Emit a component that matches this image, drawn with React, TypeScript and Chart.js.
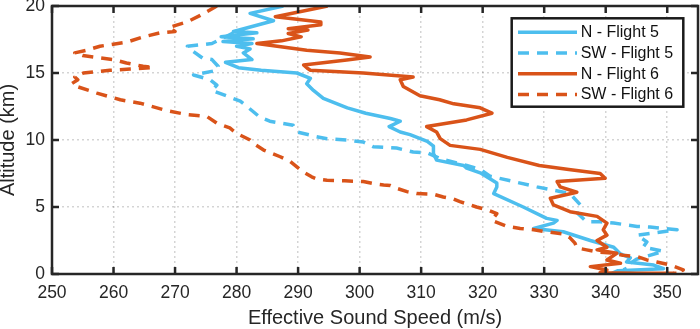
import React, { useEffect, useRef } from 'react';
import { Chart, registerables } from 'chart.js';

Chart.register(...registerables);

// ---- data (speed in m/s, altitude in km) ----
const n5Speed = [287.6, 282.2, 286.0, 279.5, 283.3, 277.5, 282.7, 277.8, 282.5, 280.0, 282.2, 281.1, 282.5, 278.2, 280.3, 284.0, 289.8, 292.0, 291.4, 292.5, 294.1, 298.0, 301.0, 305.0, 306.6, 304.8, 306.6, 308.2, 311.0, 312.0, 312.0, 312.5, 316.9, 317.4, 319.6, 322.3, 322.3, 321.8, 326.6, 330.4, 332.1, 331.5, 328.3, 333.1, 337.5, 341.3, 342.4, 344.0, 343.4, 347.8, 349.4, 342.0, 341.0];
const n5Alt = [20.0, 19.45, 18.9, 18.1, 18.0, 17.7, 17.55, 17.35, 17.2, 17.0, 16.8, 16.5, 16.0, 15.8, 15.4, 15.2, 15.0, 14.6, 14.2, 13.7, 13.1, 12.4, 12.0, 11.6, 11.4, 11.0, 10.6, 10.4, 9.9, 9.55, 9.0, 8.5, 8.1, 7.9, 7.55, 6.8, 6.5, 6.0, 5.0, 4.15, 4.0, 3.8, 3.4, 3.15, 2.5, 2.0, 1.5, 1.2, 0.9, 0.67, 0.4, 0.25, 0.05];

const sw5Speed = [279.5, 276.0, 272.0, 273.0, 274.5, 276.0, 277.0, 276.8, 273.0, 275.7, 276.8, 276.0, 280.6, 281.7, 283.8, 285.4, 289.2, 289.8, 293.0, 294.7, 297.9, 300.6, 302.2, 306.0, 308.7, 311.0, 313.1, 317.4, 319.6, 321.2, 325.0, 328.8, 331.0, 334.2, 335.9, 335.3, 336.9, 339.1, 341.3, 345.1, 347.2, 351.6, 345.1, 346.7, 346.1, 349.4, 345.0, 343.0, 343.5];
const sw5Alt = [18.0, 17.2, 17.0, 16.6, 16.1, 16.0, 15.5, 15.2, 14.85, 14.5, 14.1, 13.7, 12.9, 12.5, 11.7, 11.4, 11.1, 10.6, 10.25, 10.1, 10.0, 9.85, 9.5, 9.4, 9.1, 9.05, 8.6, 8.1, 7.8, 7.3, 6.9, 6.5, 6.3, 6.0, 5.15, 4.6, 3.9, 3.9, 3.8, 3.55, 3.5, 3.3, 2.9, 2.4, 2.0, 1.7, 1.1, 0.5, 0.0];

const n6Speed = [294.8, 286.3, 293.7, 293.7, 288.4, 291.6, 288.4, 290.5, 287.3, 283.3, 291.4, 296.8, 301.7, 297.9, 290.9, 291.5, 292.0, 300.6, 308.7, 306.6, 307.1, 309.8, 313.0, 315.3, 319.6, 321.5, 317.4, 310.9, 312.5, 313.1, 314.7, 319.6, 324.0, 329.2, 334.0, 339.1, 339.9, 332.1, 332.6, 335.3, 331.0, 331.5, 334.2, 338.6, 340.2, 339.6, 340.2, 338.6, 340.2, 338.6, 341.8, 340.2, 342.4, 337.5, 340.2, 339.1, 345.0, 351.5];
const n6Alt = [20.0, 19.2, 18.8, 18.6, 18.3, 18.2, 17.95, 17.7, 17.4, 17.2, 16.7, 16.5, 16.2, 15.97, 15.6, 15.35, 15.2, 15.0, 14.7, 14.5, 14.0, 13.3, 13.0, 12.7, 12.4, 12.0, 11.5, 11.0, 10.6, 10.1, 9.6, 9.3, 8.7, 8.1, 7.8, 7.5, 7.15, 6.9, 6.5, 6.1, 5.65, 5.15, 4.65, 4.3, 3.8, 3.3, 2.9, 2.5, 2.0, 1.8, 1.55, 1.05, 0.8, 0.55, 0.3, 0.1, 0.05, 0.05];

const sw6Speed = [276.8, 274.1, 271.9, 269.0, 270.0, 267.6, 264.9, 262.1, 257.8, 255.6, 253.7, 255.0, 256.7, 260.0, 262.1, 264.8, 266.5, 262.7, 259.4, 257.3, 255.1, 253.7, 254.2, 253.2, 254.0, 257.3, 261.1, 264.3, 268.6, 271.9, 275.2, 276.8, 278.9, 280.0, 282.2, 282.7, 284.4, 287.1, 288.7, 289.8, 290.9, 292.2, 293.0, 294.7, 297.6, 300.6, 302.2, 303.9, 305.0, 306.0, 307.7, 309.3, 312.0, 313.6, 315.2, 316.3, 318.0, 319.0, 320.7, 322.3, 321.5, 324.0, 326.1, 328.3, 330.4, 333.0, 334.2, 335.0, 335.3, 336.9, 338.6, 341.3, 342.8, 345.1, 346.7, 348.3, 350.5, 352.6, 351.0];
const sw6Alt = [20.0, 19.3, 18.8, 18.4, 18.1, 18.0, 17.7, 17.3, 17.0, 16.7, 16.5, 16.3, 16.2, 16.0, 15.75, 15.5, 15.4, 15.3, 15.2, 15.1, 15.0, 14.7, 14.5, 14.2, 14.0, 13.5, 13.0, 12.75, 12.2, 11.9, 11.75, 11.25, 10.9, 10.5, 10.0, 9.75, 9.25, 8.75, 8.4, 8.0, 7.6, 7.25, 7.1, 7.0, 6.95, 6.9, 6.75, 6.65, 6.6, 6.4, 6.15, 6.0, 5.95, 5.75, 5.6, 5.4, 5.15, 5.0, 4.8, 4.5, 4.0, 3.55, 3.4, 3.3, 3.15, 3.0, 2.7, 2.3, 1.95, 1.8, 1.65, 1.55, 1.4, 1.3, 1.05, 0.9, 0.67, 0.3, 0.1];

const seriesLabels = ['N - Flight 5', 'SW - Flight 5', 'N - Flight 6', 'SW - Flight 6'];
const xTicks = [250, 260, 270, 280, 290, 300, 310, 320, 330, 340, 350];
const yTicks = [0, 5, 10, 15, 20];

const BLUE = '#4DBEEE';
const ORANGE = '#D95319';
const AXIS = '#262626';
const FONT = "'Liberation Sans', Arial, Helvetica, sans-serif";
const DASH = [11, 8];
const LW = 3.5;

const zip = (xs: number[], ys: number[]) => xs.map((x, i) => ({ x, y: ys[i] }));

const legendItems = [
  { label: seriesLabels[0], color: BLUE, dash: [] as number[] },
  { label: seriesLabels[1], color: BLUE, dash: DASH },
  { label: seriesLabels[2], color: ORANGE, dash: [] as number[] },
  { label: seriesLabels[3], color: ORANGE, dash: DASH },
];

const framePlugin = {
  id: 'matlabFrame',
  afterDraw(chart: any) {
    const { ctx, chartArea } = chart;
    const { left, right, top, bottom } = chartArea;
    const xs = chart.scales.x;
    const ys = chart.scales.y;
    ctx.save();
    ctx.setLineDash([]);
    ctx.strokeStyle = AXIS;
    ctx.lineWidth = 2.5;
    const tl = 7;
    ctx.beginPath();
    xTicks.forEach((v) => {
      const p = xs.getPixelForValue(v);
      ctx.moveTo(p, bottom); ctx.lineTo(p, bottom - tl);
      ctx.moveTo(p, top); ctx.lineTo(p, top + tl);
    });
    yTicks.forEach((v) => {
      const p = ys.getPixelForValue(v);
      ctx.moveTo(left, p); ctx.lineTo(left + tl, p);
      ctx.moveTo(right, p); ctx.lineTo(right - tl, p);
    });
    ctx.stroke();
    ctx.strokeRect(left, top, right - left, bottom - top);

    // legend box
    const bw = 171.6, bh = 88.4;
    const bx = right - 14.7 - bw;
    const by = top + 12.3;
    ctx.fillStyle = '#ffffff';
    ctx.fillRect(bx, by, bw, bh);
    ctx.lineWidth = 2.5;
    ctx.strokeStyle = '#1a1a1a';
    ctx.strokeRect(bx, by, bw, bh);
    ctx.font = `16px ${FONT}`;
    ctx.textBaseline = 'middle';
    ctx.textAlign = 'left';
    legendItems.forEach((it, i) => {
      const cy = by + 14 + i * 20.7;
      ctx.beginPath();
      ctx.strokeStyle = it.color;
      ctx.lineWidth = LW;
      ctx.setLineDash(it.dash);
      ctx.moveTo(bx + 6.3, cy);
      ctx.lineTo(bx + 65.3, cy);
      ctx.stroke();
      ctx.setLineDash([]);
      ctx.fillStyle = '#111111';
      ctx.fillText(it.label, bx + 69, cy + 0.5);
    });
    ctx.restore();
  },
};

export default function App() {
  const ref = useRef<HTMLCanvasElement>(null);
  useEffect(() => {
    if (!ref.current) return;
    const common = {
      showLine: true,
      pointRadius: 0,
      pointHoverRadius: 0,
      borderWidth: LW,
      borderJoinStyle: 'round' as const,
      borderCapStyle: 'butt' as const,
      tension: 0,
      fill: false,
    };
    const chart = new Chart(ref.current, {
      type: 'scatter',
      data: {
        datasets: [
          { ...common, label: seriesLabels[3], data: zip(sw6Speed, sw6Alt), borderColor: ORANGE, backgroundColor: ORANGE, borderDash: DASH },
          { ...common, label: seriesLabels[2], data: zip(n6Speed, n6Alt), borderColor: ORANGE, backgroundColor: ORANGE },
          { ...common, label: seriesLabels[1], data: zip(sw5Speed, sw5Alt), borderColor: BLUE, backgroundColor: BLUE, borderDash: DASH },
          { ...common, label: seriesLabels[0], data: zip(n5Speed, n5Alt), borderColor: BLUE, backgroundColor: BLUE },
        ],
      },
      options: {
        responsive: false,
        animation: false,
        events: [],
        layout: { padding: { top: 6, right: 2, left: 0, bottom: 0 } },
        plugins: { legend: { display: false }, tooltip: { enabled: false } },
        scales: {
          x: {
            type: 'linear',
            min: 250,
            max: 355,
            afterBuildTicks: (s: any) => { s.ticks = xTicks.map((v) => ({ value: v })); },
            afterFit: (s: any) => { s.height = 55; s.paddingLeft = 0; s.paddingRight = 0; },
            grid: { color: 'rgba(0,0,0,0.17)', lineWidth: 1.5, drawTicks: false },
            border: { display: false, dash: [2, 3] },
            ticks: { color: AXIS, font: { size: 17.5, family: FONT }, padding: 9, maxRotation: 0, autoSkip: false },
            title: { display: true, text: 'Effective Sound Speed (m/s)', color: AXIS, font: { size: 20, family: FONT, lineHeight: 1 }, padding: { top: 0, bottom: 1 } },
          },
          y: {
            type: 'linear',
            min: 0,
            max: 20,
            afterBuildTicks: (s: any) => { s.ticks = yTicks.map((v) => ({ value: v })); },
            afterFit: (s: any) => { s.width = 52; s.paddingTop = 0; s.paddingBottom = 0; },
            grid: { color: 'rgba(0,0,0,0.17)', lineWidth: 1.5, drawTicks: false },
            border: { display: false, dash: [2, 3] },
            ticks: { color: AXIS, font: { size: 17.5, family: FONT }, padding: 7 },
            title: { display: true, text: 'Altitude (km)', color: AXIS, font: { size: 20, family: FONT, lineHeight: 1 }, padding: { top: -2, bottom: 0 } },
          },
        },
      } as any,
      plugins: [framePlugin],
    });
    return () => chart.destroy();
  }, []);
  return (
    <div style={{ position: 'absolute', left: 0, top: 0, width: 700, height: 329, background: '#ffffff' }}>
      <canvas ref={ref} width={700} height={329} style={{ display: 'block' }} />
    </div>
  );
}
